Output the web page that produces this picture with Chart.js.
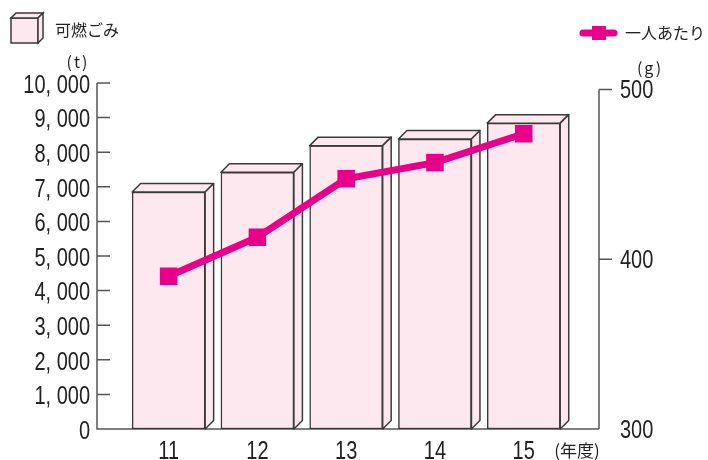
<!DOCTYPE html>
<html>
<head>
<meta charset="utf-8">
<script src="https://cdn.jsdelivr.net/npm/chart.js@4"></script>
<style>
  html, body { margin: 0; padding: 0; background: #fff; }
  #wrap { width: 708px; height: 460px; }
</style>
</head>
<body>
<div id="wrap"><canvas id="myChart" width="708" height="460"></canvas></div>
<script>
// data
const categories = ['11', '12', '13', '14', '15'];
const burnable = [6850, 7420, 8190, 8380, 8840];   // t
const perPerson = [390, 413, 447.5, 457, 474];      // g
const leftTicks = [0, 1000, 2000, 3000, 4000, 5000, 6000, 7000, 8000, 9000, 10000];
const rightTicks = [300, 400, 500];

const PINK = '#fde8f0';
const EDGE = '#3a3a3a';
const MAGENTA = '#e8008a';
const AXIS = '#555';
const TEXT = '#222';
const numFont = "25px 'Liberation Sans', Arial, sans-serif";
const jpFont = "'Noto Sans CJK JP', sans-serif";
const DX = 8.5, DY = 8.5;

function fmt(v) {
  return v.toLocaleString('en-US').replace(',', ', ');
}

// the numbers in the picture use a narrow face, so squeeze a normal one
function narrowText(ctx, text, x, y, align) {
  ctx.save();
  ctx.translate(x, y);
  ctx.scale(0.8, 1);
  ctx.font = numFont;
  ctx.textAlign = align;
  ctx.textBaseline = 'alphabetic';
  ctx.fillStyle = TEXT;
  ctx.fillText(text, 0, 8.8);
  ctx.restore();
}

// top and right faces of the bars, drawn right after the bar dataset
const depthPlugin = {
  id: 'depth',
  afterDatasetDraw(chart, args) {
    if (args.index !== 0) return;
    const ctx = chart.ctx;
    ctx.save();
    ctx.lineWidth = 1.5;
    ctx.strokeStyle = EDGE;
    ctx.fillStyle = PINK;
    ctx.lineJoin = 'round';
    args.meta.data.forEach(bar => {
      const l = bar.x - bar.width / 2, r = bar.x + bar.width / 2;
      const t = bar.y, b = bar.base;
      ctx.beginPath();
      ctx.moveTo(l, t);
      ctx.lineTo(l + DX, t - DY);
      ctx.lineTo(r + DX, t - DY);
      ctx.lineTo(r, t);
      ctx.closePath();
      ctx.fill();
      ctx.stroke();
      ctx.beginPath();
      ctx.moveTo(r, t);
      ctx.lineTo(r + DX, t - DY);
      ctx.lineTo(r + DX, b - DY);
      ctx.lineTo(r, b);
      ctx.closePath();
      ctx.fill();
      ctx.stroke();
    });
    ctx.restore();
  }
};

// axis lines, inward ticks, tick labels, units and legends
const decorPlugin = {
  id: 'decor',
  beforeDatasetsDraw(chart) {
    const ctx = chart.ctx;
    const y = chart.scales.y, y2 = chart.scales.y2;
    const x0 = chart.chartArea.left, x1 = chart.chartArea.right;
    const bottom = y.getPixelForValue(0);
    ctx.save();
    ctx.strokeStyle = AXIS;
    ctx.lineWidth = 1.5;
    ctx.beginPath();
    ctx.moveTo(x0, y.getPixelForValue(10000));
    ctx.lineTo(x0, bottom);
    ctx.lineTo(x1, bottom);
    ctx.moveTo(x1, y2.getPixelForValue(500));
    ctx.lineTo(x1, bottom);
    leftTicks.forEach(v => {
      if (v === 0) return;
      const p = y.getPixelForValue(v);
      ctx.moveTo(x0, p);
      ctx.lineTo(x0 + 13, p);
    });
    rightTicks.forEach(v => {
      if (v === 300) return;
      const p = y2.getPixelForValue(v);
      ctx.moveTo(x1, p);
      ctx.lineTo(x1 + 13, p);
    });
    ctx.stroke();
    ctx.restore();
  },
  afterDraw(chart) {
    const ctx = chart.ctx;
    const sx = chart.scales.x, y = chart.scales.y, y2 = chart.scales.y2;

    // tick labels
    leftTicks.forEach(v => narrowText(ctx, fmt(v), 90, y.getPixelForValue(v) + 1, 'right'));
    rightTicks.forEach(v => narrowText(ctx, String(v), 620, y2.getPixelForValue(v), 'left'));
    categories.forEach((c, i) => narrowText(ctx, c, sx.getPixelForValue(i), 450, 'center'));

    ctx.save();
    ctx.fillStyle = TEXT;
    ctx.textBaseline = 'middle';

    // unit labels
    ctx.font = "16px " + jpFont;
    ctx.textAlign = 'center';
    ctx.letterSpacing = '2px';
    ctx.fillText('(t)', 78, 62);
    ctx.fillText('(g)', 650, 68);
    ctx.letterSpacing = '0px';
    ctx.font = "17px " + jpFont;
    ctx.fillText('(年度)', 577, 451);

    // bar legend: little box
    ctx.lineWidth = 1.5;
    ctx.strokeStyle = EDGE;
    ctx.fillStyle = PINK;
    const l = 11, r = 38, t = 18, b = 43, d = 5;
    ctx.beginPath();
    ctx.rect(l, t, r - l, b - t);
    ctx.fill(); ctx.stroke();
    ctx.beginPath();
    ctx.moveTo(l, t); ctx.lineTo(l + d, t - d); ctx.lineTo(r + d, t - d); ctx.lineTo(r, t);
    ctx.closePath(); ctx.fill(); ctx.stroke();
    ctx.beginPath();
    ctx.moveTo(r, t); ctx.lineTo(r + d, t - d); ctx.lineTo(r + d, b - d); ctx.lineTo(r, b);
    ctx.closePath(); ctx.fill(); ctx.stroke();
    ctx.fillStyle = TEXT;
    ctx.font = "16px " + jpFont;
    ctx.textAlign = 'left';
    ctx.fillText('可燃ごみ', 55, 30);

    // line legend
    ctx.strokeStyle = MAGENTA;
    ctx.lineWidth = 7;
    ctx.lineCap = 'round';
    ctx.beginPath();
    ctx.moveTo(583, 33);
    ctx.lineTo(614, 33);
    ctx.stroke();
    ctx.fillStyle = MAGENTA;
    ctx.fillRect(592, 26, 14, 14);
    ctx.fillStyle = TEXT;
    ctx.fillText('一人あたり', 625, 33);
    ctx.restore();
  }
};

new Chart(document.getElementById('myChart'), {
  type: 'bar',
  data: {
    datasets: [
      {
        type: 'bar',
        label: '可燃ごみ',
        data: burnable.map((v, i) => ({ x: i, y: v })),
        backgroundColor: PINK,
        borderColor: EDGE,
        borderWidth: 1.5,
        borderSkipped: false,
        barThickness: 73,
        yAxisID: 'y',
        order: 1
      },
      {
        type: 'line',
        label: '一人あたり',
        data: perPerson.map((v, i) => ({ x: i, y: v })),
        borderColor: MAGENTA,
        backgroundColor: MAGENTA,
        borderWidth: 7,
        pointStyle: 'rect',
        pointRadius: 12.4,
        pointBorderWidth: 0,
        tension: 0,
        yAxisID: 'y2',
        order: 0
      }
    ]
  },
  options: {
    responsive: false,
    animation: false,
    layout: { padding: { top: 83, left: 0, right: 0, bottom: 0 } },
    plugins: {
      legend: { display: false },
      tooltip: { enabled: false }
    },
    scales: {
      x: {
        type: 'linear',
        min: -0.807,
        max: 4.848,
        offset: false,
        grid: { display: false },
        border: { display: false },
        ticks: { display: false },
        afterBuildTicks: s => { s.ticks = categories.map((c, i) => ({ value: i })); },
        afterFit: s => { s.height = 31; }
      },
      y: {
        position: 'left',
        min: 0,
        max: 10000,
        grid: { display: false },
        border: { display: false },
        ticks: { display: false },
        afterBuildTicks: s => { s.ticks = leftTicks.map(v => ({ value: v })); },
        afterFit: s => { s.width = 97; }
      },
      y2: {
        position: 'right',
        min: 300,
        max: 503.9,
        grid: { display: false },
        border: { display: false },
        ticks: { display: false },
        afterBuildTicks: s => { s.ticks = rightTicks.map(v => ({ value: v })); },
        afterFit: s => { s.width = 109; }
      }
    }
  },
  plugins: [depthPlugin, decorPlugin]
});
</script>
</body>
</html>
